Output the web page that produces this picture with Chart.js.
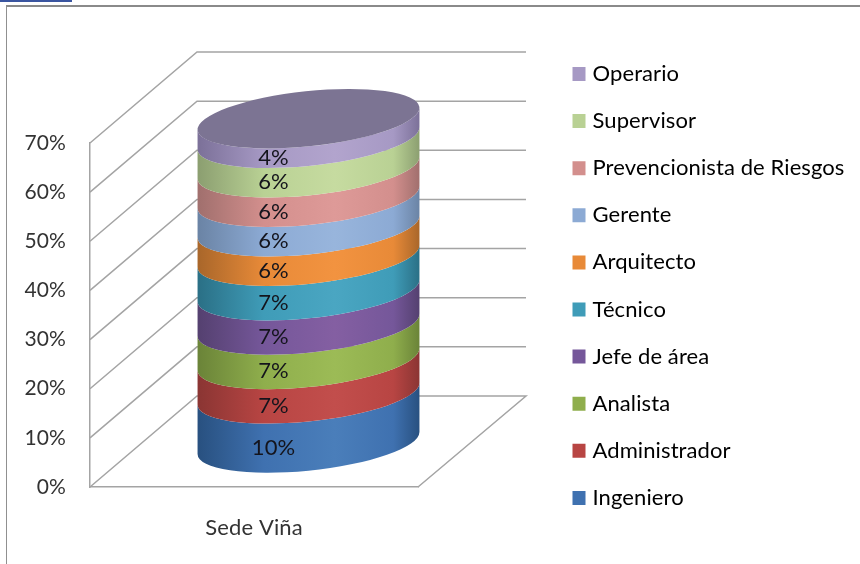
<!DOCTYPE html>
<html><head><meta charset="utf-8">
<style>
html,body{margin:0;padding:0;background:#fff;overflow:hidden}
#wrap{position:relative;width:860px;height:564px}
#bar{position:absolute;left:0;top:0;width:72px;height:2px;background:#3a55a0}
#fr{position:absolute;left:6px;top:5px;right:0;bottom:0;border-top:2px solid #8a8a8a;border-left:1px solid #909090}
canvas{position:absolute;left:0;top:0;filter:blur(0.5px)}
</style>
<script src="https://cdn.jsdelivr.net/npm/chart.js@4"></script>
</head><body>
<div id="wrap"><div id="bar"></div><div id="fr"></div><canvas id="c" width="860" height="564"></canvas></div>
<script>
const categories = ['Sede Viña'];
const seriesNames = ['Ingeniero','Administrador','Analista','Jefe de área','Técnico','Arquitecto','Gerente','Prevencionista de Riesgos','Supervisor','Operario'];
const seriesValues = [10,7,7,7,7,6,6,6,6,4];
const seriesColors = ['#3f71b0','#b84543','#8fae4c','#75579a','#3f9cb8','#e88a38','#8caad4','#d38f8d','#b9d194','#a699c4'];
const seriesEdge   = ['#28507f','#8a3533','#6a8338','#54406f','#2a6f85','#a8662a','#6a83a4','#a06f6d','#8b9e70','#7b7098'];
const seriesLight  = ['#4a7eba','#c24e4c','#9cbb56','#845fa2','#4aa6c2','#f29340','#98b5dc','#de9a98','#c6dba0','#b2a4cd'];
const topFace = '#7c7493';
const yTicks = [0,10,20,30,40,50,60,70];
const FONT = 'Lato, sans-serif';

const DEPTH_X = 107, DEPTH_Y = -91;   // wall depth
const MID_X = 54.5, MID_Y = -44;      // cylinder sits mid-depth
const TILT = -6 * Math.PI/180, RY = 27.5;
const SPACING = '0.1px';

const cyl = {
  id:'cyl',
  beforeLayout(chart){
    chart.ctx.letterSpacing = SPACING;
    const L = chart.legend;
    if (L && !L._patched){
      L._patched = true;
      const proto = Object.getPrototypeOf(L);
      L.fit = function(){
        const h = this.maxHeight;
        this.maxHeight = 2000;
        proto.fit.call(this);
        this.maxHeight = h;
        this.width = 1;
      };
    }
  },
  afterLayout(chart){
    const L = chart.legend;
    L.left = 551.4; L.right = 859; L.top = 37.9; L.bottom = 560;
  },
  beforeDraw(chart){ chart.ctx.letterSpacing = SPACING; },
  beforeDatasetsDraw(chart){
    const ctx = chart.ctx, y = chart.scales.y;
    const a = chart.chartArea;
    ctx.save();
    // walls and floor
    ctx.strokeStyle = '#a4a4a4'; ctx.lineWidth = 1.5;
    yTicks.forEach(v=>{
      const py = y.getPixelForValue(v);
      ctx.beginPath();
      ctx.moveTo(a.left,py);
      ctx.lineTo(a.left+DEPTH_X,py+DEPTH_Y);
      ctx.lineTo(a.right+DEPTH_X+1,py+DEPTH_Y);
      if (v===0) ctx.lineTo(a.right,py);
      ctx.stroke();
    });
    // cylinder, bottom segment first
    const metas = chart.data.datasets.map((d,i)=>chart.getDatasetMeta(i).data[0]);
    const rx0 = metas[0].width/2;
    const cx = metas[0].x + MID_X;
    const t0 = Math.atan(-(RY/rx0)*Math.tan(TILT));
    metas.forEach((el,i)=>{
      const yb = el.base + MID_Y, yt = el.y + MID_Y;
      const g = ctx.createLinearGradient(cx-rx0,0,cx+rx0,0);
      g.addColorStop(0,seriesEdge[i]);
      g.addColorStop(0.3,seriesColors[i]);
      g.addColorStop(0.62,seriesLight[i]);
      g.addColorStop(0.88,seriesColors[i]);
      g.addColorStop(1,seriesEdge[i]);
      ctx.fillStyle = g;
      ctx.beginPath();
      ctx.ellipse(cx,yb,rx0,RY,TILT,t0,t0+Math.PI,false);
      ctx.ellipse(cx,yt,rx0,RY,TILT,t0+Math.PI,t0,true);
      ctx.closePath();
      ctx.fill();
    });
    const last = metas[metas.length-1];
    ctx.fillStyle = topFace;
    ctx.beginPath();
    ctx.ellipse(cx,last.y+MID_Y,rx0,RY,TILT,0,Math.PI*2);
    ctx.fill();
    // value labels
    ctx.fillStyle = '#14141c';
    ctx.font = '22px '+FONT;
    ctx.textAlign = 'center'; ctx.textBaseline = 'middle';
    metas.forEach((el,i)=>{
      const my = (el.base+el.y)/2 + MID_Y + RY + 1.5;
      ctx.fillText(seriesValues[i]+'%', cx-35, my);
    });
    ctx.restore();
  },
  beforeDatasetDraw(){ return false; }
};

new Chart(document.getElementById('c'),{
  type:'bar',
  data:{
    labels:categories,
    datasets:seriesNames.map((n,i)=>({label:n,data:[seriesValues[i]],backgroundColor:seriesColors[i]}))
  },
  options:{
    responsive:false,animation:false,
    layout:{padding:{top:143,right:441,left:0,bottom:0}},
    datasets:{bar:{barPercentage:0.68,categoryPercentage:1}},
    scales:{
      x:{stacked:true,
        grid:{display:false},
        border:{display:true,color:'#a4a4a4',width:1.5},
        ticks:{color:'#333',font:{family:FONT,size:22},padding:20},
        afterFit(s){s.height=77;}},
      y:{stacked:true,min:0,max:70,
        grid:{display:false},
        border:{display:true,color:'#a4a4a4',width:1.5},
        ticks:{stepSize:10,color:'#333',font:{family:FONT,size:21},padding:16,callback:v=>v+'%'},
        afterFit(s){s.width=90;}}
    },
    plugins:{
      title:{display:false},tooltip:{enabled:false},
      legend:{display:true,position:'right',align:'start',reverse:true,
        labels:{color:'#333',font:{family:FONT,size:22},boxWidth:5,boxHeight:6,padding:25.1,
          generateLabels(chart){
            return chart.data.datasets.map((d,i)=>({text:d.label,fillStyle:d.backgroundColor,strokeStyle:d.backgroundColor,lineWidth:8,datasetIndex:i,hidden:false}));
          }}}
    }
  },
  plugins:[cyl]
});
</script>
</body></html>
